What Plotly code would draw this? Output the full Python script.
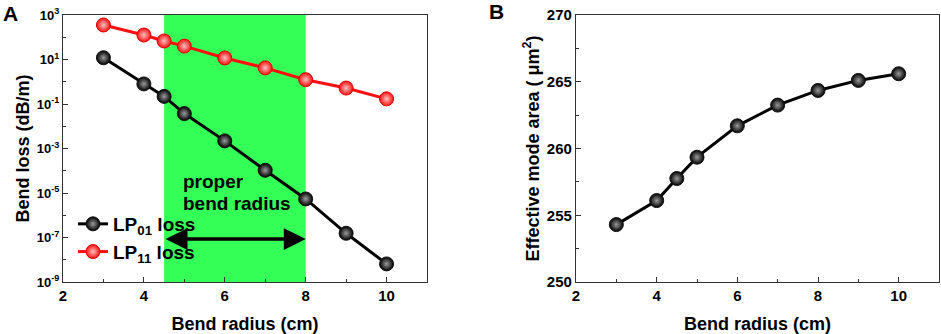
import plotly.graph_objects as go
import numpy as np

# ---- data ----
radius = [3, 4, 4.5, 5, 6, 7, 8, 9, 10]
lp01_loss = [12.0, 0.8, 0.22, 0.037, 0.0022, 1.05e-4, 5.4e-6, 1.55e-7, 6.5e-9]
lp11_loss = [355, 126, 68, 40, 11.7, 4.2, 1.24, 0.52, 0.17]
mode_area = [254.3, 256.1, 257.75, 259.35, 261.7, 263.25, 264.35, 265.1, 265.6]

proper_range = [4.5, 8]
arrow_level = 8.5e-8

log_tick_vals = [1e3, 1e1, 1e-1, 1e-3, 1e-5, 1e-7, 1e-9]
log_tick_text = ["10<sup>3</sup>", "10<sup>1</sup>", "10<sup>-1</sup>", "10<sup>-3</sup>",
                 "10<sup>-5</sup>", "10<sup>-7</sup>", "10<sup>-9</sup>"]
log_minor_vals = [1e2, 1e0, 1e-2, 1e-4, 1e-6, 1e-8]

FONT = "Liberation Sans, Arial, sans-serif"
W, H = 941, 334

def px(xp):
    return xp / W

def py(yp):
    return 1 - yp / H

fig = go.Figure()

marker_black = dict(size=14, color="black", line=dict(color="#111", width=1),
                    gradient=dict(type="radial", color="#9a9a9a"))
marker_red = dict(size=14, color="#ff1010", line=dict(color="#e00000", width=1),
                  gradient=dict(type="radial", color="#ffc0c0"))

fig.add_trace(go.Scatter(x=radius, y=lp01_loss, mode="lines+markers", name="LP<sub>01</sub> loss",
                         line=dict(color="black", width=3), marker=marker_black,
                         xaxis="x", yaxis="y"))
fig.add_trace(go.Scatter(x=radius, y=lp11_loss, mode="lines+markers", name="LP<sub>11</sub> loss",
                         line=dict(color="#ff1010", width=3), marker=marker_red,
                         xaxis="x", yaxis="y"))
fig.add_trace(go.Scatter(x=radius, y=mode_area, mode="lines+markers", showlegend=False,
                         line=dict(color="black", width=3), marker=marker_black,
                         xaxis="x2", yaxis="y2"))

# green band
fig.add_shape(type="rect", xref="x", yref="paper", x0=proper_range[0], x1=proper_range[1],
              y0=py(282), y1=py(15), fillcolor="#33ff57", line=dict(width=0), layer="below")

# double arrow
fig.add_annotation(x=proper_range[1], y=np.log10(arrow_level), ax=proper_range[0], ay=np.log10(arrow_level),
                   xref="x", yref="y", axref="x", ayref="y", text="", showarrow=True,
                   arrowhead=2, startarrowhead=2, arrowside="end+start", arrowwidth=3.5,
                   arrowsize=1.25, startarrowsize=1.25, arrowcolor="black", standoff=0, startstandoff=0)

tf = dict(family=FONT, size=19, color="black", weight="bold")
fig.add_annotation(x=px(181), y=py(181), xref="paper", yref="paper", text="proper",
                   showarrow=False, xanchor="left", yanchor="middle", font=tf)
fig.add_annotation(x=px(181), y=py(203), xref="paper", yref="paper", text="bend radius",
                   showarrow=False, xanchor="left", yanchor="middle", font=tf)

# panel labels
pf = dict(family=FONT, size=21, color="black", weight="bold")
fig.add_annotation(x=px(1), y=py(13), xref="paper", yref="paper", text="A", showarrow=False,
                   xanchor="left", yanchor="middle", font=pf)
fig.add_annotation(x=px(487), y=py(12), xref="paper", yref="paper", text="B", showarrow=False,
                   xanchor="left", yanchor="middle", font=pf)

axis_common = dict(showline=True, linecolor="#333", linewidth=1.3, mirror=True,
                   ticks="inside", ticklen=5, tickwidth=1.2, tickcolor="#333",
                   showgrid=False, zeroline=False, automargin=False,
                   tickfont=dict(family=FONT, size=15, color="black", weight="bold"))
title_font = dict(family=FONT, size=18, color="black", weight="bold")

fig.update_layout(
    width=W, height=H, margin=dict(l=0, r=0, t=0, b=0, autoexpand=False),
    paper_bgcolor="white", plot_bgcolor="rgba(0,0,0,0)",
    font=dict(family=FONT, color="black"),
    xaxis=dict(domain=[px(63), px(427)], range=[2, 11], dtick=2, tick0=0,
               minor=dict(dtick=1, ticks="inside", ticklen=3, tickcolor="#333"),
               title=dict(text="Bend radius (cm)", font=title_font, standoff=14),
               anchor="y", **axis_common),
    yaxis=dict(domain=[py(282), py(15)], type="log", range=[-9, 3],
               tickvals=log_tick_vals, ticktext=log_tick_text,
               minor=dict(tickvals=log_minor_vals, ticks="inside", ticklen=3, tickcolor="#333"),
               title=dict(text="Bend loss (dB/m)", font=title_font, standoff=2),
               anchor="x", **{**axis_common, "tickfont": dict(family=FONT, size=13, color="black", weight="bold")}),
    xaxis2=dict(domain=[px(576), px(939)], range=[2, 11], dtick=2, tick0=0,
                minor=dict(dtick=1, ticks="inside", ticklen=3, tickcolor="#333"),
                title=dict(text="Bend radius (cm)", font=title_font, standoff=14),
                anchor="y2", **axis_common),
    yaxis2=dict(domain=[py(282), py(15)], range=[250, 270], dtick=5,
                minor=dict(dtick=2.5, ticks="inside", ticklen=3, tickcolor="#333"),
                title=dict(text="Effective mode area ( μm<sup>2</sup>)", font=title_font, standoff=2),
                anchor="x2", **axis_common),
    legend=dict(x=px(73), y=py(205), xanchor="left", yanchor="top", bgcolor="rgba(0,0,0,0)",
                font=dict(family=FONT, size=19, color="black", weight="bold"),
                itemwidth=30, tracegroupgap=0),
)

fig.write_html("out.html", config={"displayModeBar": False},
               post_script="document.body.style.margin='0px';")
